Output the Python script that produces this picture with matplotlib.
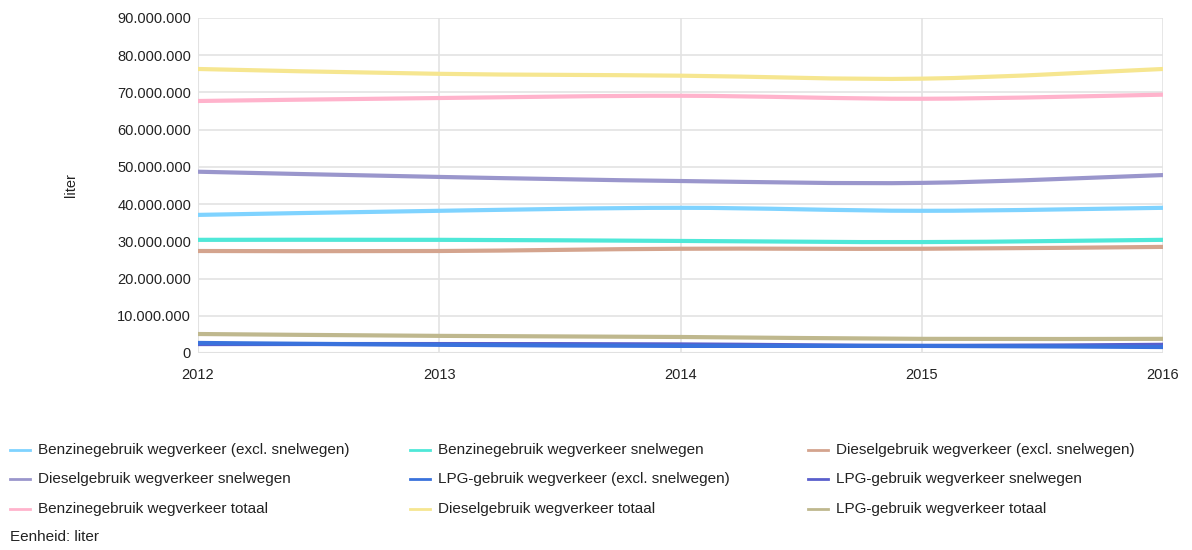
import numpy as np
import matplotlib.pyplot as plt
from matplotlib.path import Path
from matplotlib.patches import PathPatch
from matplotlib.lines import Line2D
from matplotlib.ticker import FuncFormatter

plt.rcParams['font.family'] = ['Liberation Sans', 'DejaVu Sans']

# Fuel use on roads, liters per year
years = [2012, 2013, 2014, 2015, 2016]

benzine_excl = [37.1e6, 38.2e6, 39.0e6, 38.2e6, 39.0e6]
benzine_snel = [30.4e6, 30.4e6, 30.1e6, 29.8e6, 30.4e6]
diesel_excl = [27.4e6, 27.4e6, 28.0e6, 28.0e6, 28.5e6]
diesel_snel = [48.7e6, 47.3e6, 46.2e6, 45.7e6, 47.8e6]
lpg_excl = [2.7e6, 2.2e6, 1.9e6, 1.9e6, 1.6e6]
lpg_snel = [2.4e6, 2.4e6, 2.3e6, 1.9e6, 2.2e6]
benzine_tot = [67.7e6, 68.5e6, 69.1e6, 68.3e6, 69.4e6]
diesel_tot = [76.3e6, 75.0e6, 74.5e6, 73.7e6, 76.3e6]
lpg_tot = [5.1e6, 4.6e6, 4.3e6, 3.8e6, 3.8e6]

labels = [
    "Benzinegebruik wegverkeer (excl. snelwegen)",
    "Benzinegebruik wegverkeer snelwegen",
    "Dieselgebruik wegverkeer (excl. snelwegen)",
    "Dieselgebruik wegverkeer snelwegen",
    "LPG-gebruik wegverkeer (excl. snelwegen)",
    "LPG-gebruik wegverkeer snelwegen",
    "Benzinegebruik wegverkeer totaal",
    "Dieselgebruik wegverkeer totaal",
    "LPG-gebruik wegverkeer totaal",
]
series = [benzine_excl, benzine_snel, diesel_excl, diesel_snel, lpg_excl,
          lpg_snel, benzine_tot, diesel_tot, lpg_tot]
colors = ["#7fd3ff", "#4fe8d8", "#d4a48e", "#9a96cc", "#3a72dc",
          "#5a5fcc", "#ffb3cc", "#f6e690", "#bfb88e"]

# draw back-to-front so the bottom LPG lines end up on top
draw_order = [7, 6, 3, 0, 1, 2, 8, 5, 4]


def smooth_path(xs, ys):
    # Catmull-Rom style cubic bezier through the points
    p = np.column_stack([xs, ys]).astype(float)
    n = len(p)
    verts = [p[0]]
    codes = [Path.MOVETO]
    for i in range(n - 1):
        p0 = p[max(i - 1, 0)]
        p1 = p[i]
        p2 = p[i + 1]
        p3 = p[min(i + 2, n - 1)]
        c1 = p1 + (p2 - p0) / 6.0
        c2 = p2 - (p3 - p1) / 6.0
        verts += [c1, c2, p2]
        codes += [Path.CURVE4] * 3
    return Path(verts, codes)


fig = plt.figure(figsize=(11.92, 5.5), dpi=100)
ax = fig.add_axes([0.1661, 0.3582, 0.8096, 0.6091])

for i in draw_order:
    patch = PathPatch(smooth_path(years, series[i]), facecolor='none',
                      edgecolor=colors[i], lw=3.0, capstyle='butt')
    ax.add_patch(patch)

ax.set_xlim(2012, 2016)
ax.set_ylim(0, 90e6)
ax.set_xticks(years)
ax.set_yticks(np.arange(0, 90e6 + 1, 10e6))
ax.yaxis.set_major_formatter(FuncFormatter(lambda v, _: f"{int(v):,}".replace(",", ".")))
ax.grid(True, color="#e3e3e3", lw=1.2)
ax.set_axisbelow(True)
for s in ax.spines.values():
    s.set_visible(False)
ax.tick_params(length=0, labelsize=10.5, colors="#222222")
ax.tick_params(axis='y', pad=5)
ax.tick_params(axis='x', pad=11)
ax.axhline(0, color="#dadada", lw=1.5, zorder=0.5)
ax.axvline(2012, color="#e0e0e0", lw=1.5, zorder=0.5)
ax.set_ylabel("liter", fontsize=10.5, color="#222222")
ax.yaxis.set_label_coords(-120 / 965, 0.5)

# legend in three columns
col_x = [10 / 1192, 410 / 1192, 808 / 1192]
row_y = [1 - 450 / 550, 1 - 479 / 550, 1 - 509 / 550]
for k, (lab, col) in enumerate(zip(labels, colors)):
    x0 = col_x[k % 3]
    y0 = row_y[k // 3]
    fig.add_artist(Line2D([x0, x0 + 20 / 1192], [y0, y0], color=col, lw=2.0,
                          transform=fig.transFigure))
    fig.text(x0 + 28 / 1192, y0, lab, fontsize=11, color="#222222",
             va='center', ha='left')

fig.text(10 / 1192, 1 - 537 / 550, "Eenheid: liter", fontsize=11,
         color="#222222", va='center', ha='left')

fig.savefig("out.png", dpi=100)
